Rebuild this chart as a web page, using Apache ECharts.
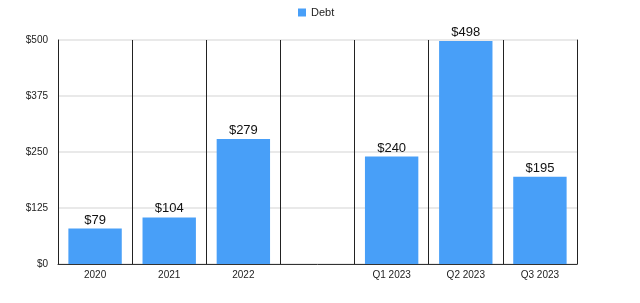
<!DOCTYPE html>
<html>
<head>
<meta charset="utf-8">
<script src="https://cdn.jsdelivr.net/npm/echarts@6/dist/echarts.min.js"></script>
<style>
html, body { margin: 0; padding: 0; background: #fff; }
#chart { width: 640px; height: 303px; }
</style>
</head>
<body>
<div id="chart"></div>
<script>
var categories = ['2020', '2021', '2022', '', 'Q1 2023', 'Q2 2023', 'Q3 2023'];
var debt = [79, 104, 279, '-', 240, 498, 195];
var yTicks = [0, 125, 250, 375, 500];

var myChart = echarts.init(document.getElementById('chart'));
var option = {
    animation: false,
    textStyle: {fontFamily: 'Liberation Sans, Arial, sans-serif'},
    legend: {
        top: 2,
        left: 293,
        itemWidth: 8,
        itemHeight: 8,
        itemGap: 6,
        icon: 'rect',
        textStyle: {fontSize: 11, color: '#222'},
        data: ['Debt']
    },
    grid: {left: 58, right: 63, top: 40, bottom: 39, containLabel: false},
    xAxis: {
        type: 'category',
        data: categories,
        axisLine: {lineStyle: {color: '#333', width: 1}},
        axisTick: {show: false},
        axisLabel: {fontSize: 10, color: '#222', margin: 6, interval: 0},
        splitLine: {show: true, interval: 0, lineStyle: {color: '#222', width: 1}}
    },
    yAxis: [{
        type: 'value',
        min: yTicks[0],
        max: yTicks[yTicks.length - 1],
        interval: 125,
        axisLine: {show: true, lineStyle: {color: '#222'}},
        axisTick: {show: false},
        axisLabel: {fontSize: 10, color: '#222', margin: 10, formatter: '${value}'},
        splitLine: {lineStyle: {color: '#e2e2e2', width: 1.5}}
    }, {
        type: 'value',
        min: yTicks[0],
        max: yTicks[yTicks.length - 1],
        interval: 125,
        position: 'right',
        axisLine: {show: true, lineStyle: {color: '#222'}},
        axisTick: {show: false},
        axisLabel: {show: false},
        splitLine: {show: false}
    }],
    series: [{
        name: 'Debt',
        type: 'bar',
        data: debt,
        barWidth: '72%',
        itemStyle: {color: '#489ff8'},
        label: {
            show: true,
            position: 'top',
            distance: 2,
            fontSize: 13,
            color: '#111',
            formatter: '${c}'
        }
    }]
};
myChart.setOption(option);
</script>
</body>
</html>
